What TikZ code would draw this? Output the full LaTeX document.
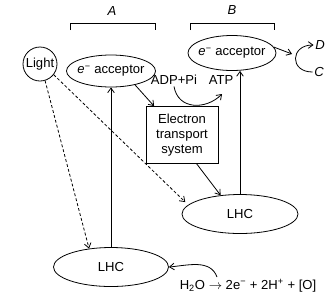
\documentclass[tikz,border=0pt]{standalone}
\usepackage{fontspec}
\setmainfont{Liberation Sans}
\usetikzlibrary{arrows.meta,shapes.geometric}

\begin{document}
\begin{tikzpicture}[x=0.75pt, y=-0.75pt, line width=0.6pt, >={Straight Barb[length=3.5pt,width=5pt]},
  every node/.style={font=\fontsize{9.8}{11}\selectfont, inner sep=1pt},
  oval/.style={draw, ellipse, inner sep=0pt},
  faint/.style={dash pattern=on 2.2pt off 1.6pt}]
\useasboundingbox (0,0) rectangle (334,304);
% units and bodies
\node[draw, circle, minimum size=25.5pt, inner sep=0pt] (light) at (40,64) {Light};
\node[oval, minimum width=66.75pt, minimum height=24pt, label=center:{\textit{e}\textsuperscript{−} acceptor}] (accA) at (111,71) {};
\node[oval, minimum width=66pt, minimum height=26.25pt, label=center:{\textit{e}\textsuperscript{−} acceptor}] (accB) at (232,53) {};
\node[draw, minimum width=54pt, minimum height=42.75pt, align=center] (ets) at (182,135) {Electron\\transport\\system};
\node[oval, minimum width=86.25pt, minimum height=29.25pt, label=center:LHC] (lhcA) at (111,267) {};
\node[oval, minimum width=87pt, minimum height=29.25pt, label=center:LHC] (lhcB) at (240,214) {};
% brackets
\draw (70,30) -- (70,23) -- (155,23) -- (155,30);
\draw (190,30) -- (190,23) -- (274,23) -- (274,30);
\node (labA) at (112,11) {\textit{A}};
\node (labB) at (232,10) {\textit{B}};
% small texts
\node (adp) at (174,80) {ADP+Pi};
\node (atp) at (221,80) {ATP};
\node (dout) at (320,45) {\textit{D}};
\node (cin) at (319,72) {\textit{C}};
\node (water) at (248,286) {H\textsubscript{2}O $\rightarrow$ 2e\textsuperscript{−} + 2H\textsuperscript{+} + [O]};
\coordinate (atpin) at (222,94);
\coordinate (cdin) at (292,54);
\coordinate (wsrc) at (217,277);
% connectors
\draw[->] (lhcA.north) -- (accA.south);
\draw[->] (lhcB.north) -- (lhcB.north |- accB.south);
\draw[->] (accA.-30) -- (ets.134);
\draw[->] (ets.-63) -- (lhcB.136);
\draw[->] (adp.south) .. controls (178,110) and (206,110) .. (atpin);
\draw[->] (accB.8) -- (cdin);
\draw[->] (cin.west) to[out=180, in=180, looseness=2.2] (dout.west);
\draw[->] (wsrc) to[out=110, in=5] (lhcA.east);
\draw[->, faint] (light.-73) -- (lhcA.140);
\draw[->, faint, shorten >=3pt] (light.-38) -- (lhcB.170);
\end{tikzpicture}
\end{document}
